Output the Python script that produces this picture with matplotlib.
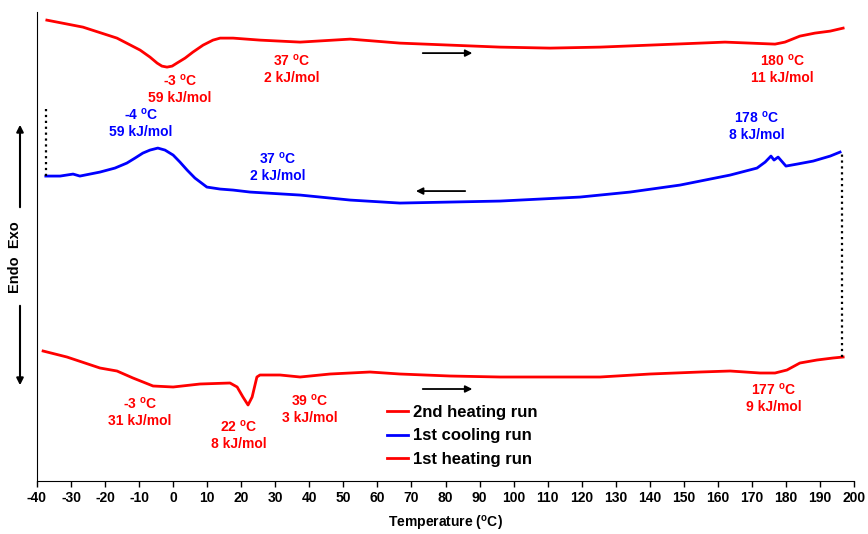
import matplotlib
matplotlib.use("Agg")
import matplotlib.pyplot as plt

plt.rcParams['font.family'] = ['Liberation Sans', 'DejaVu Sans']
plt.rcParams['font.weight'] = 'bold'
plt.rcParams['axes.unicode_minus'] = False
plt.rcParams['mathtext.fontset'] = 'custom'
plt.rcParams['mathtext.rm'] = 'Liberation Sans:bold'
plt.rcParams['mathtext.bf'] = 'Liberation Sans:bold'

# DSC traces, temperature (C) vs heat flow (a.u., curves offset)
heat2_T = [-37.1, -26.5, -16.5, -9.7, -6.8, -4.7, -3.3, -1.8, -0.3, 1.1, 3.5, 5.8, 8.8,
           11.7, 13.8, 17.6, 25.5, 37.3, 52.0, 66.6, 81.3, 96.0, 110.7, 125.4, 140.1,
           154.8, 162.1, 169.5, 176.8, 179.7, 184.1, 188.5, 193.0, 196.8]
heat2_hf = [461, 454, 443, 431, 424, 418, 415, 414, 415, 418, 423, 429, 436,
            441, 443, 443, 441, 439, 442, 438, 436, 434, 433, 434, 436,
            438, 439, 438, 437, 439, 445, 448, 450, 453]

cool1_T = [-37.4, -33.2, -29.4, -27.4, -21.5, -17.1, -13.6, -11.2, -8.9, -6.8, -4.5,
           -2.4, 0.0, 2.0, 4.1, 6.4, 9.9, 13.8, 17.6, 22.6, 37.3, 52.0, 66.6, 81.3, 96.0,
           119.5, 134.2, 148.9, 163.6, 171.5, 173.9, 175.6, 176.5, 177.7, 180.0, 183.3,
           188.0, 193.0, 195.9]
cool1_hf = [305, 305, 307, 305, 309, 313, 318, 323, 328, 331, 333,
            331, 326, 319, 311, 303, 294, 292, 291, 289, 286, 281, 278, 279, 280,
            284, 289, 296, 306, 313, 319, 325, 321, 324, 315, 317,
            320, 325, 329]

heat1_T = [-38.2, -31.2, -21.5, -16.5, -11.8, -5.9, 0.0, 7.9, 16.7, 18.8, 20.5, 22.0,
           23.2, 24.6, 25.5, 31.4, 37.3, 46.1, 57.8, 66.6, 81.3, 96.0, 125.4, 140.1,
           154.8, 163.6, 172.4, 176.8, 180.3, 184.1, 189.1, 193.8, 196.8]
heat1_hf = [130, 124, 113, 110, 103, 95, 94, 97, 98, 94, 84, 76,
            84, 104, 106, 106, 104, 107, 109, 107, 105, 104, 104, 107,
            109, 110, 108, 108, 111, 118, 121, 123, 124]

xticks = list(range(-40, 201, 10))

fig = plt.figure(figsize=(8.68, 5.34), dpi=100)
ax = fig.add_axes([0.0426, 0.0993, 0.9413, 0.878])

ax.plot(heat2_T, heat2_hf, color='#ff0000', lw=2, label='2nd heating run')
ax.plot(cool1_T, cool1_hf, color='#0000ff', lw=2, label='1st cooling run')
ax.plot(heat1_T, heat1_hf, color='#ff0000', lw=2, label='1st heating run')

# dotted connectors
ax.plot([cool1_T[0], cool1_T[0]], [cool1_hf[0], 374], color='k', ls=':', lw=1.6)
ax.plot([cool1_T[-1] + 0.6, cool1_T[-1] + 0.6], [heat1_hf[-1], cool1_hf[-1]],
        color='k', ls=':', lw=1.6)

# scan direction arrows
arr = dict(arrowstyle='-|>', color='k', lw=1.3, mutation_scale=10)
ax.annotate('', xy=(88.7, 428), xytext=(72.5, 428), arrowprops=arr)
ax.annotate('', xy=(70.5, 290), xytext=(86.6, 290), arrowprops=arr)
ax.annotate('', xy=(88.7, 92), xytext=(72.5, 92), arrowprops=arr)

def note(x, y, t, kj, c):
    ax.text(x, y, t + r' $^{\mathrm{o}}$C' + '\n' + kj + ' kJ/mol', color=c,
            ha='center', va='center', fontsize=10, fontweight='bold',
            linespacing=1.25)

red, blue = '#ff0000', '#0000ff'
note(2.0, 392, '-3', '59', red)
note(34.9, 412, '37', '2', red)
note(178.9, 412, '180', '11', red)
note(-9.4, 358, '-4', '59', blue)
note(30.8, 314, '37', '2', blue)
note(171.5, 355, '178', '8', blue)
note(-9.7, 69, '-3', '31', red)
note(19.3, 46, '22', '8', red)
note(40.2, 72, '39', '3', red)
note(176.5, 83, '177', '9', red)

ax.set_xlim(-40, 200)
ax.set_ylim(0, 469)
ax.set_xticks(xticks)
ax.set_yticks([])
for s in ['top', 'right']:
    ax.spines[s].set_visible(False)
ax.tick_params(axis='x', direction='out', length=4, width=1, labelsize=10)
for lab in ax.get_xticklabels():
    lab.set_fontweight('bold')
ax.set_xlabel(r'Temperature ($^{\mathrm{o}}$C)', fontsize=10, fontweight='bold',
              labelpad=6)

leg = ax.legend(loc='upper left', bbox_to_anchor=(0.428, 0.162), frameon=False,
                fontsize=12, handlelength=1.3, handletextpad=0.3,
                labelspacing=0.5, borderpad=0, borderaxespad=0)
for t in leg.get_texts():
    t.set_fontweight('bold')

# Endo / Exo axis label with arrows
fig.text(15 / 868, 1 - 257 / 534, 'Endo  Exo', rotation=90, ha='center', va='center',
         fontsize=10.5, fontweight='bold')
farr = dict(arrowstyle='-|>', color='k', lw=1.5, mutation_scale=10)
fig.add_artist(matplotlib.patches.FancyArrowPatch(
    (20 / 868, 1 - 210 / 534), (20 / 868, 1 - 122 / 534),
    transform=fig.transFigure, **farr))
fig.add_artist(matplotlib.patches.FancyArrowPatch(
    (20 / 868, 1 - 303 / 534), (20 / 868, 1 - 388 / 534),
    transform=fig.transFigure, **farr))

fig.savefig('out.png', dpi=100)
